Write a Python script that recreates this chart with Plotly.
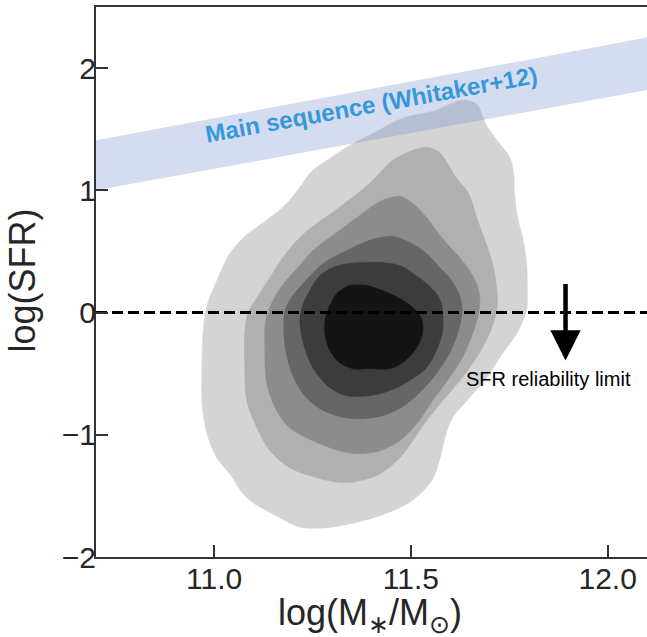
import plotly.graph_objects as go

# ---------------- data ----------------
x_range = [10.7, 12.1]
y_range = [-2.0, 2.5]
x_ticks = [11.0, 11.5, 12.0]
x_ticklabels = ["11.0", "11.5", "12.0"]
y_ticks = [-2, -1, 0, 1, 2]
y_ticklabels = ["\u22122", "\u22121", "0", "1", "2"]

# Main sequence band (Whitaker+12)
ms_mass = [10.7, 12.1]
ms_sfr_low = [1.00, 1.82]
ms_sfr_high = [1.41, 2.25]
ms_label = "Main sequence (Whitaker+12)"
ms_label_pos = (11.40, 1.70)

# SFR reliability limit
sfr_limit = 0.0
arrow_mass = 11.893
arrow_sfr_top = 0.246
arrow_sfr_tip = -0.393
limit_label = "SFR reliability limit"
limit_label_pos = (11.85, -0.54)

# density contour outlines (outermost -> innermost)
level1_mass = [11.566, 11.631, 11.667, 11.692, 11.725, 11.751, 11.761, 11.763, 11.771, 11.784,
               11.794, 11.796, 11.794, 11.769, 11.733, 11.692, 11.649, 11.606, 11.588, 11.576,
               11.553, 11.502, 11.434, 11.357, 11.281, 11.218, 11.149, 11.083, 11.040, 11.007,
               10.982, 10.969, 10.969, 10.972, 10.982, 11.007, 11.040, 11.078, 11.129, 11.180,
               11.218, 11.246, 11.294, 11.345, 11.395, 11.479]
level1_sfr = [1.656, 1.738, 1.705, 1.533, 1.385, 1.270, 1.148, 1.000, 0.779, 0.615,
              0.402, 0.180, 0.016, -0.172, -0.336, -0.533, -0.697, -0.861, -1.008, -1.172,
              -1.377, -1.541, -1.648, -1.721, -1.762, -1.754, -1.648, -1.516, -1.320, -1.189,
              -0.992, -0.721, -0.451, -0.172, 0.057, 0.262, 0.484, 0.623, 0.746, 0.877,
              1.025, 1.148, 1.262, 1.369, 1.451, 1.590]

level2_mass = [11.454, 11.505, 11.540, 11.573, 11.593, 11.616, 11.642, 11.657, 11.667, 11.682,
               11.700, 11.713, 11.720, 11.718, 11.700, 11.667, 11.624, 11.581, 11.540, 11.505,
               11.472, 11.421, 11.370, 11.327, 11.261, 11.192, 11.142, 11.109, 11.083, 11.078,
               11.078, 11.086, 11.109, 11.142, 11.175, 11.218, 11.261, 11.319, 11.395]
level2_sfr = [1.246, 1.328, 1.352, 1.311, 1.221, 1.098, 1.000, 0.893, 0.779, 0.648,
              0.484, 0.320, 0.123, 0.016, -0.172, -0.369, -0.557, -0.721, -0.885, -1.049,
              -1.189, -1.320, -1.377, -1.393, -1.352, -1.270, -1.131, -0.943, -0.721, -0.451,
              -0.172, 0.000, 0.123, 0.287, 0.451, 0.615, 0.730, 0.861, 1.057]

level3_mass = [11.428, 11.472, 11.505, 11.540, 11.565, 11.591, 11.624, 11.649, 11.667, 11.675,
               11.672, 11.657, 11.631, 11.598, 11.555, 11.515, 11.472, 11.421, 11.370, 11.319,
               11.251, 11.192, 11.159, 11.134, 11.129, 11.131, 11.147, 11.177, 11.218, 11.251,
               11.312, 11.370]
level3_sfr = [0.918, 0.951, 0.893, 0.779, 0.672, 0.566, 0.451, 0.344, 0.238, 0.123,
              -0.008, -0.172, -0.369, -0.533, -0.721, -0.910, -1.049, -1.131, -1.156, -1.131,
              -1.049, -0.943, -0.803, -0.582, -0.311, -0.066, 0.082, 0.238, 0.385, 0.508,
              0.656, 0.795]

level4_mass = [11.413, 11.454, 11.497, 11.540, 11.573, 11.598, 11.619, 11.629, 11.629, 11.619,
               11.598, 11.565, 11.522, 11.479, 11.428, 11.370, 11.319, 11.269, 11.230, 11.200,
               11.182, 11.177, 11.180, 11.200, 11.238, 11.281, 11.337, 11.375]
level4_sfr = [0.607, 0.623, 0.574, 0.484, 0.369, 0.287, 0.180, 0.074, -0.025, -0.172,
              -0.336, -0.500, -0.656, -0.770, -0.844, -0.869, -0.852, -0.787, -0.680, -0.516,
              -0.311, -0.107, 0.016, 0.139, 0.279, 0.410, 0.508, 0.566]

level5_mass = [11.302, 11.345, 11.388, 11.428, 11.472, 11.505, 11.540, 11.565, 11.578, 11.581,
               11.581, 11.565, 11.540, 11.497, 11.446, 11.395, 11.337, 11.294, 11.251, 11.230,
               11.218, 11.225, 11.243, 11.269]
level5_sfr = [0.369, 0.402, 0.410, 0.410, 0.385, 0.320, 0.238, 0.156, 0.074, -0.025,
              -0.148, -0.311, -0.451, -0.557, -0.639, -0.680, -0.680, -0.615, -0.451, -0.287,
              -0.082, 0.057, 0.180, 0.303]

level6_mass = [11.345, 11.388, 11.428, 11.472, 11.505, 11.527, 11.530, 11.515, 11.479, 11.446,
               11.395, 11.352, 11.312, 11.286, 11.281, 11.294, 11.312]
level6_sfr = [0.221, 0.221, 0.180, 0.115, 0.041, -0.049, -0.164, -0.287, -0.410, -0.459,
              -0.459, -0.459, -0.393, -0.246, -0.082, 0.057, 0.156]

level_colors = ["#d4d4d4", "#b0b0b0", "#8c8c8c", "#666666", "#3c3c3c", "#141414"]

# ---------------- figure ----------------
FONT = "Liberation Sans, Arial, Helvetica, sans-serif"
fig = go.Figure()

levels = [(level1_mass, level1_sfr), (level2_mass, level2_sfr), (level3_mass, level3_sfr),
          (level4_mass, level4_sfr), (level5_mass, level5_sfr), (level6_mass, level6_sfr)]
for (mx, sy), col in zip(levels, level_colors):
    xs = list(mx) + list(mx[:2])
    ys = list(sy) + list(sy[:2])
    fig.add_trace(go.Scatter(x=xs, y=ys, mode="lines", fill="toself", fillcolor=col,
                             line=dict(color=col, width=0.5, shape="spline", smoothing=0.9),
                             hoverinfo="skip", showlegend=False))

# main-sequence band
fig.add_trace(go.Scatter(x=ms_mass, y=ms_sfr_low, mode="lines", line=dict(width=0),
                         hoverinfo="skip", showlegend=False))
fig.add_trace(go.Scatter(x=ms_mass, y=ms_sfr_high, mode="lines", line=dict(width=0),
                         fill="tonexty", fillcolor="rgba(118,138,202,0.30)",
                         hoverinfo="skip", showlegend=False))

# reliability limit line
fig.add_trace(go.Scatter(x=x_range, y=[sfr_limit, sfr_limit], mode="lines",
                         line=dict(color="black", width=3, dash="11px,5px"),
                         hoverinfo="skip", showlegend=False))

fig.add_annotation(x=arrow_mass, y=arrow_sfr_tip, ax=arrow_mass, ay=arrow_sfr_top,
                   xref="x", yref="y", axref="x", ayref="y", text="", showarrow=True,
                   arrowhead=2, arrowsize=1.35, arrowwidth=4.5, arrowcolor="black", standoff=0)

fig.add_annotation(x=limit_label_pos[0], y=limit_label_pos[1], xref="x", yref="y",
                   text=limit_label, showarrow=False,
                   font=dict(family=FONT, size=20, color="black"))

fig.add_annotation(x=ms_label_pos[0], y=ms_label_pos[1], xref="x", yref="y",
                   text="<b>" + ms_label + "</b>", showarrow=False, textangle=-10.2,
                   font=dict(family=FONT, size=24, color="#3498db"))

# axis titles
fig.add_annotation(x=-0.134, y=0.503, xref="paper", yref="paper", text="log(SFR)",
                   textangle=-90, showarrow=False, xanchor="center", yanchor="middle",
                   font=dict(family=FONT, size=36, color="#262626"))
fig.add_annotation(x=0.497, y=-0.106, xref="paper", yref="paper",
                   text="log(M<sub>\u2217</sub>/M<sub>\u2299</sub>)",
                   showarrow=False, xanchor="center", yanchor="middle",
                   font=dict(family=FONT, size=36, color="#262626"))

axis_common = dict(showgrid=False, zeroline=False, showline=True, linecolor="#333333",
                   linewidth=2, ticks="inside", ticklen=12, tickwidth=2, tickcolor="#333333",
                   tickfont=dict(family=FONT, size=30, color="#262626"))
fig.update_xaxes(range=x_range, tickvals=x_ticks, ticktext=x_ticklabels, mirror=True,
                 ticklabelstandoff=-6, **axis_common)
fig.update_yaxes(range=y_range, tickvals=y_ticks, ticktext=y_ticklabels,
                 ticklabelstandoff=-8, **axis_common)

fig.update_layout(width=647, height=637, margin=dict(l=96, r=0, t=7, b=80),
                  plot_bgcolor="white", paper_bgcolor="white", showlegend=False)

fig.write_html("out.html", config={"displayModeBar": False},
               post_script="document.body.style.margin='0';document.body.style.overflow='hidden';")
